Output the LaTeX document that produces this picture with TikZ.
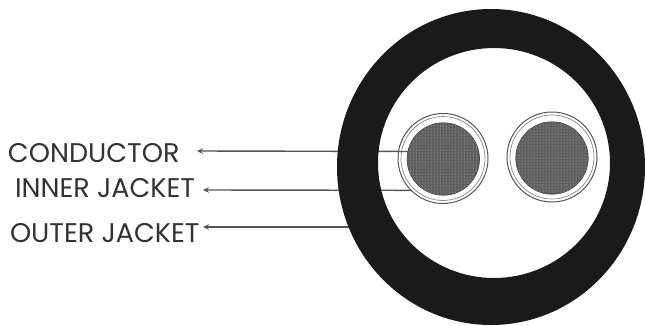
\documentclass[tikz,border=0pt]{standalone}
\usepackage{fontspec}
\setmainfont{Poppins}
\usetikzlibrary{arrows.meta}
\definecolor{ink}{HTML}{1A1A1A}
\definecolor{txt}{HTML}{333333}
\definecolor{wire}{HTML}{555555}
\definecolor{core}{HTML}{5E5E5E}
\definecolor{dotc}{HTML}{8C8C8C}
\definecolor{corner}{HTML}{E6EAEE}
\tikzset{
  lbl/.style={inner sep=0pt,outer sep=0pt,text=txt,font=\fontsize{27}{27}\selectfont,anchor=base west},
  leader/.style={draw=wire,line width=1.4pt,-{Stealth[length=6pt,width=5.5pt]}},
  jacket/.style={circle,draw=wire,line width=1pt,fill=white,minimum size=90pt,inner sep=0pt,outer sep=0pt},
  jacketin/.style={circle,draw=wire!70,line width=.7pt,minimum size=84pt,inner sep=0pt,outer sep=0pt},
  coreshape/.style={circle,draw=ink!80,line width=.6pt,fill=core,minimum size=72.5pt,inner sep=0pt,outer sep=0pt},
}
\begin{document}
\begin{tikzpicture}[x=1pt,y=1pt]
\useasboundingbox (0,0) rectangle (645,-325);
\fill[corner] (0,0) -- (27,0) -- (0,28) -- cycle;
% white interior and jackets
\node[jacket] (jacketL) at (443,-158.5) {};
\node[jacket] (jacketR) at (552,-157) {};
\node[jacketin] (jacketinL) at (443,-158.5) {};
\node[jacketin] (jacketinR) at (552,-157) {};
\node[coreshape] (condL) at (443.3,-159) {};
\node[coreshape] (condR) at (552,-158) {};
% labels
\node[lbl] (conductor) at (8,-162) {CONDUCTOR};
\node[lbl] (inner) at (15,-197.5) {INNER JACKET};
\node[lbl] (outer) at (10,-242.5) {OUTER JACKET};
% tips
\coordinate (tipA) at (197,-151);
\coordinate (tipB) at (203,-190);
\coordinate (tipC) at (203,-227);
\coordinate (outerhit) at (349,-227);
\draw[leader] (condL.168) -- (tipA);
\draw[leader] (jacketL.225) -- (tipB);
\draw[leader] (outerhit) -- (tipC);
% sheath (even-odd ring on top of the wires)
\fill[ink,even odd rule] (491,-167) ellipse [x radius=154,y radius=158]
  (494,-163) ellipse [x radius=116,y radius=115];
% conductor weave
\foreach \n/\cx/\cy in {condL/443.3/-159,condR/552/-158}{
  \begin{scope}
    \clip (\cx,\cy) circle (35.8);
    \foreach \i in {-12,...,12}{
      \foreach \j in {-12,...,12}{
        \fill[dotc] (\cx+\i*3,\cy+\j*3) circle (.75);
      }
    }
  \end{scope}
}
\end{tikzpicture}
\end{document}
